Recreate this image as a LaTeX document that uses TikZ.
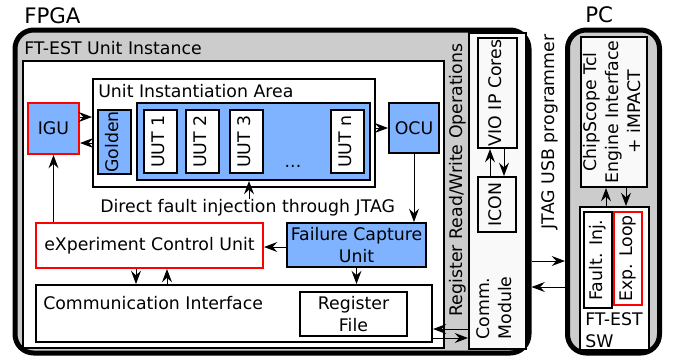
\documentclass[tikz,border=0pt]{standalone}
\usepackage{fontspec}
\setmainfont{DejaVu Sans}
\usetikzlibrary{arrows.meta}

\definecolor{blu}{HTML}{80B3FF}
\definecolor{grigio}{HTML}{CCCCCC}
\definecolor{chiaro}{HTML}{F9F9F9}

% testo verticale, letto dal basso verso l'alto
\newcommand{\vtxt}[2][c]{\rotatebox{90}{\begin{tabular}{@{}#1@{}}#2\end{tabular}}}

\begin{document}
\begin{tikzpicture}[
    x=0.75pt, y=-0.75pt,
    font=\fontsize{13}{16.5}\selectfont,
    >={Stealth[length=10pt,width=7.5pt,inset=3.5pt]},
    blk/.style={draw, line width=1.5pt, inner sep=0pt, fill=white, align=center},
    blublk/.style={blk, fill=blu},
    host/.style={draw, line width=3.75pt, rounded corners=14pt, fill=grigio, inner sep=0pt},
    txt/.style={inner sep=0pt, anchor=base west},
    wire/.style={line width=0.75pt, ->},
  ]

  \def\u{0.75pt}   % un pixel

  \useasboundingbox (0,0) rectangle (676,362);

  % ---- i due contenitori: FPGA e PC -----------------------------------------
  \node[host, minimum width=514*\u, minimum height=323*\u] (fpga) at (272,191.5) {};
  \node[host, minimum width=92*\u,  minimum height=323*\u] (pc)   at (613.5,191.5) {};
  \node[txt, font=\fontsize{16}{18}\selectfont] (fpgalbl) at (24,23)  {FPGA};
  \node[txt, font=\fontsize{16}{18}\selectfont] (pclbl)   at (585,22) {PC};

  % ---- istanza dell'unita' FT-EST --------------------------------------------
  \node[txt] (unitlbl) at (24,54) {FT-EST Unit Instance};
  \node[blk, line width=1pt, minimum width=421*\u, minimum height=287*\u] (unit) at (233.5,204.5) {};

  \node[blublk, draw=red, minimum width=51*\u, minimum height=51*\u] (igu) at (53.5,128.5) {IGU};

  % area di istanziazione con golden e UUT
  \node[blk, minimum width=282*\u, minimum height=108*\u] (uia) at (234,133) {};
  \node[txt] (uialbl) at (98,97) {Unit Instantiation Area};
  \node[blublk, minimum width=33*\u, minimum height=64*\u] (golden) at (114.5,142) {\vtxt{Golden}};
  \node[blublk, minimum width=233*\u, minimum height=77*\u] (uuts) at (253.5,141.5) {};
  \foreach \n/\x in {1/160.5, 2/202.5, 3/246.5, n/347}
    \node[blk, minimum width=33*\u, minimum height=63*\u] (uut\n) at (\x,141.5) {\vtxt{UUT \n}};
  \node[inner sep=0pt, anchor=base] (dots) at (293,167) {...};

  \node[blublk, minimum width=50*\u, minimum height=50*\u] (ocu) at (414,128) {OCU};
  \node[txt] (dfi) at (100,212) {Direct fault injection through JTAG};

  \node[blk, draw=red, minimum width=227*\u, minimum height=45*\u] (ecu) at (149.5,245.5) {eXperiment Control Unit};
  \node[blublk, minimum width=139*\u, minimum height=44*\u] (fcu) at (356.5,245) {Failure Capture\\Unit};

  \node[blk, minimum width=396*\u, minimum height=57*\u] (ci) at (234,313.5) {};
  \node[txt] (cilbl) at (43,309) {Communication Interface};
  \node[blk, minimum width=107*\u, minimum height=44*\u] (rf) at (353.5,314) {Register\\File};

  % ---- lato destro della FPGA -----------------------------------------------
  \node (rwops) at (458,180) {\vtxt{Register Read/Write Operations}};
  \node[blk, fill=chiaro, minimum width=57*\u, minimum height=316*\u] (comm) at (497.5,191) {};
  \node[blk, fill=chiaro, minimum width=39*\u, minimum height=110*\u] (vio)  at (497.5,93)  {\vtxt{VIO IP Cores}};
  \node[blk, fill=chiaro, minimum width=38*\u, minimum height=55*\u]  (icon) at (497,204.5) {\vtxt{ICON}};
  \node (commlbl) at (496,308) {\vtxt[l]{Comm.\\Module}};

  \node (jtag) at (550,132) {\vtxt{JTAG USB programmer}};

  % ---- lato PC ---------------------------------------------------------------
  \node[blk, fill=chiaro, minimum width=66*\u, minimum height=150*\u] (chip) at (614,112)
    {\vtxt{ChipScope Tcl\\Engine Interface\\+ iMPACT}};
  \node[blk, minimum width=69*\u, minimum height=143*\u] (sw) at (614.5,278.5) {};
  \node[blk, minimum width=28*\u, minimum height=96*\u] (finj) at (598,260) {\vtxt{Fault. Inj.}};
  \node[blk, draw=red, minimum width=28*\u, minimum height=93*\u] (exp) at (628,258.5) {\vtxt{Exp. Loop}};
  \node[txt] (swlbl1) at (585,325) {FT-EST};
  \node[txt] (swlbl2) at (585,347) {SW};

  % ---- collegamenti ----------------------------------------------------------
  \draw[wire] (igu.east |- 0,117) -- (uia.west |- 0,117);
  \draw[wire] (uia.west |- 0,143) -- (igu.east |- 0,143);
  \draw[wire] (uia.east |- ocu.west) -- (ocu.west);
  \draw[wire] (ocu.south) -- (ocu.south |- fcu.north);
  \draw[wire] (fcu.west |- 0,247) -- (ecu.east |- 0,247);
  \draw[wire] (igu.south |- ecu.north) -- (igu.south);
  \draw[wire] (136,0 |- ecu.south) -- (136,0 |- ci.north);
  \draw[wire] (167,0 |- ci.north) -- (167,0 |- ecu.south);
  \draw[wire] (fcu.south) -- (fcu.south |- ci.north);
  \draw[wire] (249,0 |- dfi.north) -- (249,0 |- uuts.south);

  \draw[wire] (comm.west |- 0,329) -- (ci.east |- 0,329);
  \draw[wire] (ci.east |- 0,338) -- (comm.west |- 0,338);
  \draw[wire] (490,0 |- icon.north) -- (490,0 |- vio.south);
  \draw[wire] (504,0 |- vio.south) -- (504,0 |- icon.north);

  \draw[wire] (fpga.east |- 0,261) -- (pc.west |- 0,261);
  \draw[wire] (pc.west |- 0,287) -- (fpga.east |- 0,287);
  \draw[wire] (606,0 |- sw.north) -- (606,0 |- chip.south);
  \draw[wire] (626,0 |- chip.south) -- (626,0 |- sw.north);

\end{tikzpicture}
\end{document}
